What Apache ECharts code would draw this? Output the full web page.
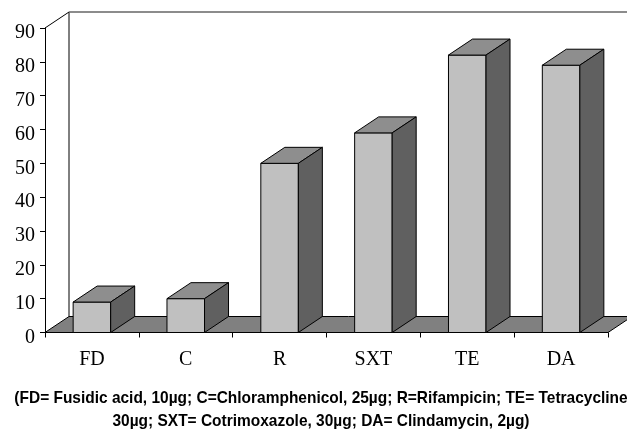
<!DOCTYPE html>
<html>
<head>
<meta charset="utf-8" />
<title>Antibiotic resistance</title>
<script src="https://cdn.jsdelivr.net/npm/echarts@6/dist/echarts.min.js"></script>
<style>
html,body{margin:0;padding:0;background:#fff;}
#main{width:627px;height:436px;}
</style>
</head>
<body>
<div id="main"></div>
<script>
var categories = ['FD', 'C', 'R', 'SXT', 'TE', 'DA'];
var values = [9, 10, 50, 59, 82, 79];
var yTicks = [0, 10, 20, 30, 40, 50, 60, 70, 80, 90];
var captionLines = [
	'(FD= Fusidic acid, 10µg; C=Chloramphenicol, 25µg; R=Rifampicin; TE= Tetracycline',
	'30µg; SXT= Cotrimoxazole, 30µg; DA= Clindamycin, 2µg)'
];

// depth of the fake 3d look, in pixels
var dx = 24, dy = 16;

var myChart = echarts.init(document.getElementById('main'));

function drawBox(params, api) {
	var center = api.coord([api.value(0), api.value(1)]);
	var base = api.coord([api.value(0), 0]);
	var w = api.size([1, 0])[0] * 0.4;
	var l = center[0] - w / 2, r = center[0] + w / 2, t = center[1], b = base[1];
	var line = {stroke: '#000', lineWidth: 1, lineJoin: 'round'};
	function poly(points, fill) {
		return {type: 'polygon', shape: {points: points}, style: Object.assign({fill: fill}, line)};
	}
	return {type: 'group', children: [
		poly([[l, b], [r, b], [r, t], [l, t]], '#c0c0c0'),
		poly([[l, t], [r, t], [r + dx, t - dy], [l + dx, t - dy]], '#8e8e8e'),
		poly([[r, b], [r + dx, b - dy], [r + dx, t - dy], [r, t]], '#606060')
	]};
}

function drawBack(params, api) {
	var g = params.coordSys;
	var x0 = g.x, x1 = g.x + g.width, top = g.y, bot = g.y + g.height;
	return {type: 'group', children: [
		{type: 'polygon', shape: {points: [[x0, bot], [x0 + dx, bot - dy], [x1 + dx, bot - dy], [x1, bot]]},
			style: {fill: '#808080', stroke: '#000', lineWidth: 1}},
		{type: 'polyline', shape: {points: [[x0, top], [x0 + dx, top - dy], [x0 + dx, bot - dy]]},
			style: {fill: 'none', stroke: '#000', lineWidth: 1}},
		{type: 'line', shape: {x1: x0 + dx, y1: top - dy, x2: 627, y2: top - dy},
			style: {stroke: '#666', lineWidth: 1.5}}
	]};
}

var chartOption = {
	animation: false,
	backgroundColor: '#fff',
	grid: {left: 45, right: 19, top: 28, bottom: 103.5},
	xAxis: {
		type: 'category',
		data: categories,
		axisLine: {lineStyle: {color: '#000', width: 1}},
		axisTick: {show: true, length: 5, lineStyle: {color: '#000'}},
		axisLabel: {color: '#000', fontFamily: 'Liberation Serif', fontSize: 20, margin: 17}
	},
	yAxis: {
		type: 'value',
		min: yTicks[0],
		max: yTicks[yTicks.length - 1],
		interval: 10,
		splitLine: {show: false},
		axisLine: {show: true, lineStyle: {color: '#000', width: 1}},
		axisTick: {show: true, length: 5, lineStyle: {color: '#000'}},
		// labels sit a little below their ticks in the original
		axisLabel: {color: '#000', fontFamily: 'Liberation Serif', fontSize: 20, margin: 10, verticalAlign: 'top', lineHeight: 10}
	},
	graphic: captionLines.map(function (s, i) {
		return {
			type: 'text', x: 321, y: 398.5 + i * 23, scaleX: 0.91,
			style: {text: s, fill: '#000', font: 'bold 17px "Liberation Sans"', textAlign: 'center', textVerticalAlign: 'middle'}
		};
	}),
	series: [
		{type: 'custom', z: 1, silent: true, renderItem: drawBack, data: [[0, 0]]},
		{type: 'custom', z: 3, silent: true, renderItem: drawBox,
			data: values.map(function (v, i) { return [i, v]; })}
	]
};
myChart.setOption(chartOption);
</script>
</body>
</html>
